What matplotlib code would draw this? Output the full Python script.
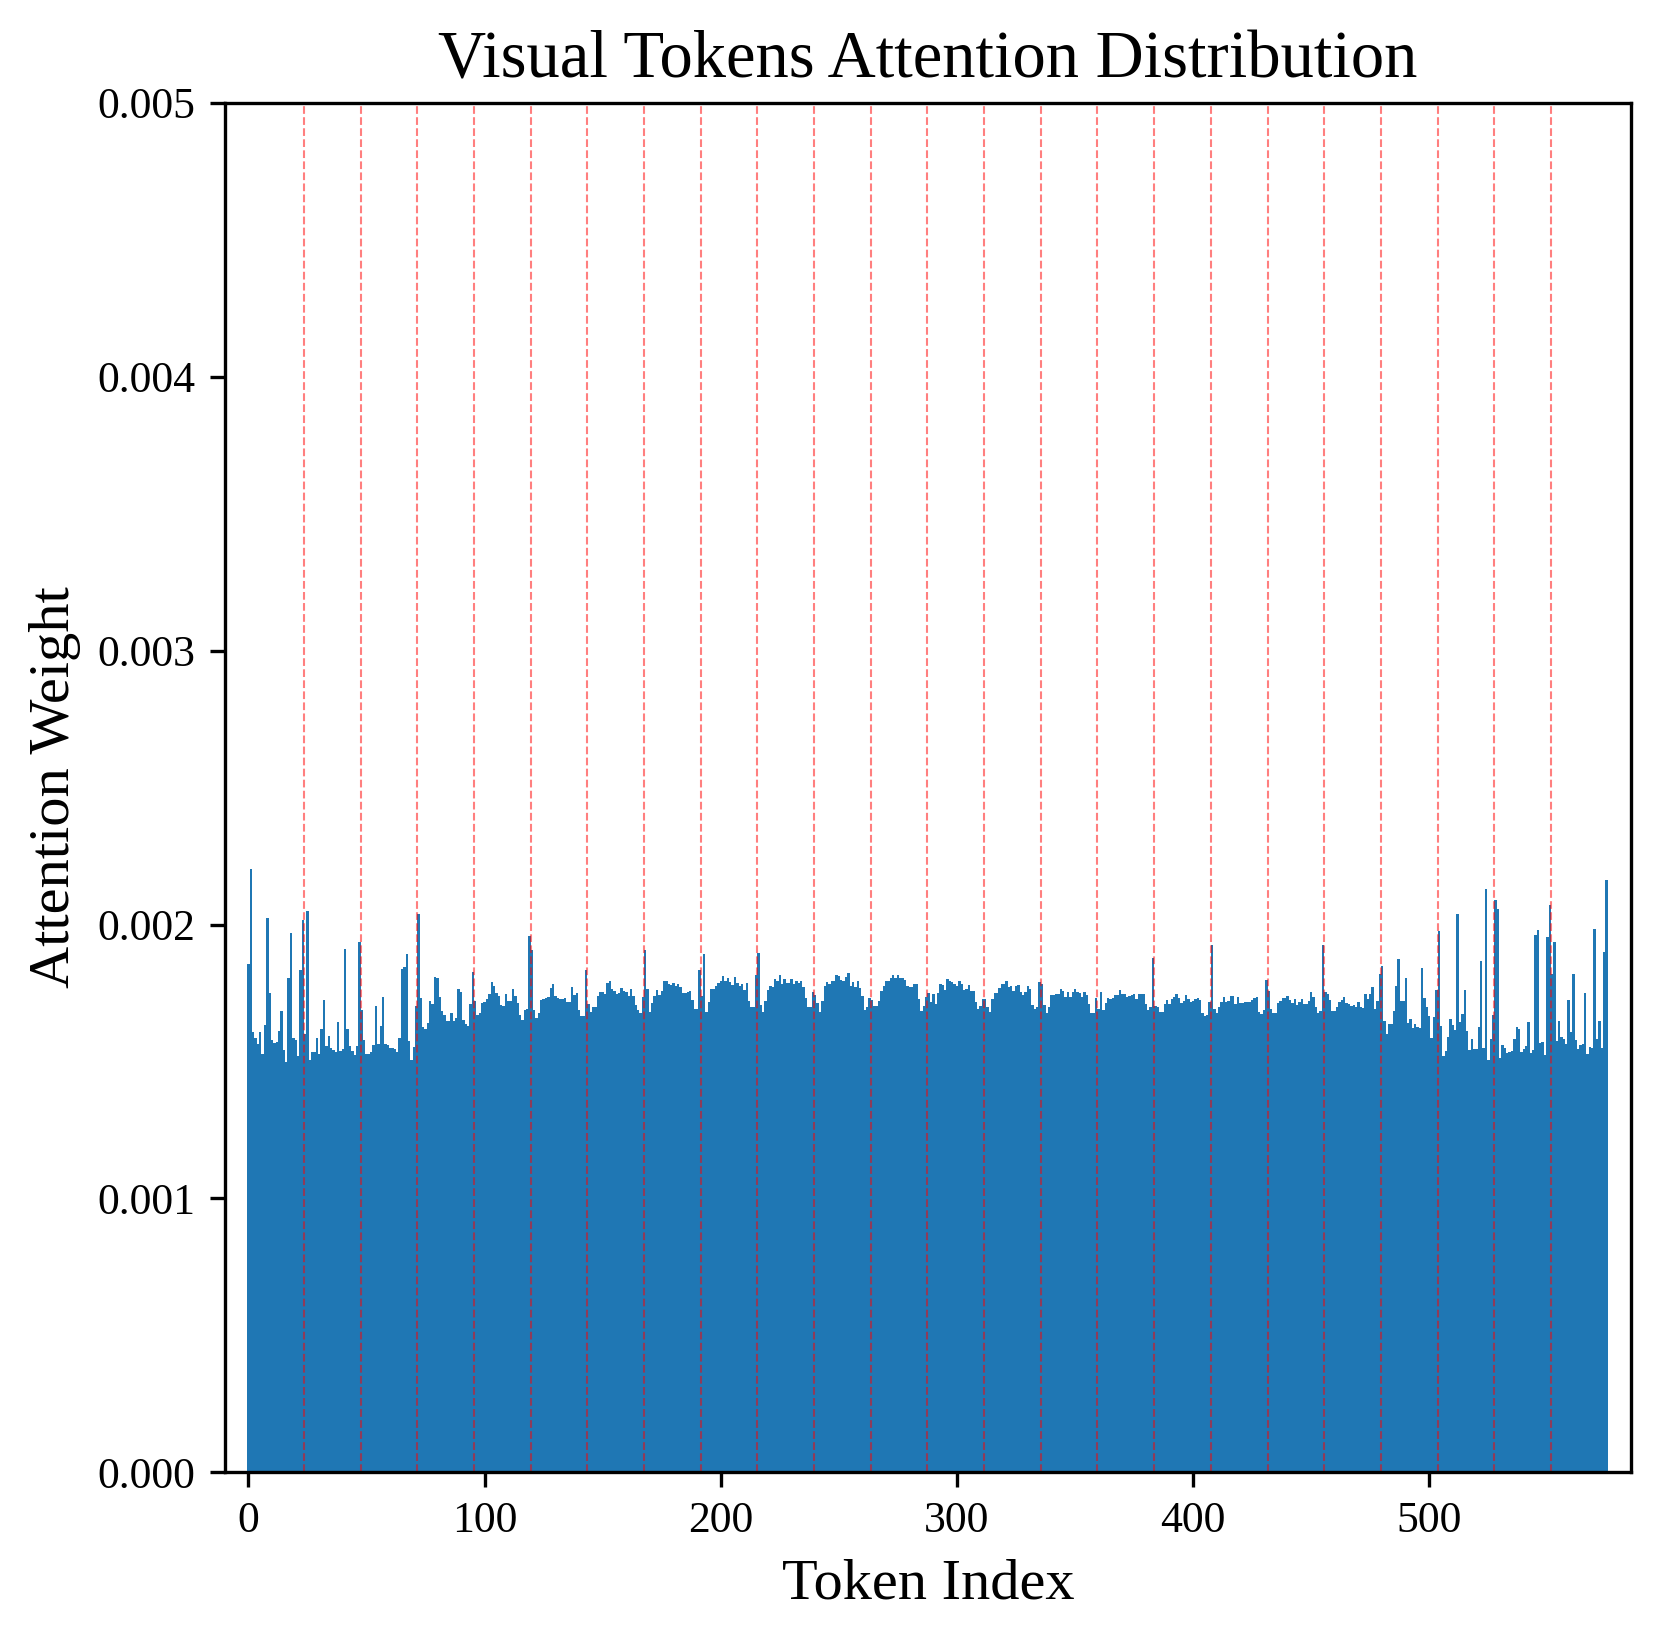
import numpy as np
import matplotlib
matplotlib.use("Agg")
import matplotlib.pyplot as plt

plt.rcParams['font.family'] = ['Liberation Serif', 'DejaVu Serif']

# Attention weights (x 1e-3), one list per row of the 24x24 visual token grid
row_00 = [1.857, 2.203, 1.608, 1.587, 1.565, 1.606, 1.528, 1.634, 2.022, 1.750, 1.580, 1.569, 1.570, 1.611, 1.683, 1.542, 1.497, 1.803, 1.969, 1.587, 1.577, 1.520, 1.833, 2.018]
row_01 = [1.602, 2.050, 1.504, 1.533, 1.533, 1.586, 1.526, 1.619, 1.726, 1.558, 1.594, 1.550, 1.541, 1.533, 1.645, 1.538, 1.544, 1.910, 1.620, 1.555, 1.538, 1.524, 1.555, 1.935]
row_02 = [1.687, 1.580, 1.527, 1.528, 1.533, 1.561, 1.703, 1.563, 1.628, 1.736, 1.563, 1.560, 1.550, 1.549, 1.546, 1.535, 1.586, 1.837, 1.846, 1.894, 1.576, 1.504, 1.554, 1.704]
row_03 = [2.038, 1.731, 1.626, 1.617, 1.641, 1.721, 1.709, 1.809, 1.805, 1.736, 1.686, 1.671, 1.647, 1.648, 1.678, 1.647, 1.660, 1.766, 1.755, 1.653, 1.636, 1.631, 1.711, 1.826]
row_04 = [1.722, 1.670, 1.678, 1.712, 1.718, 1.729, 1.748, 1.789, 1.777, 1.751, 1.738, 1.706, 1.704, 1.745, 1.722, 1.720, 1.764, 1.740, 1.714, 1.669, 1.650, 1.689, 1.690, 1.958]
row_05 = [1.906, 1.687, 1.659, 1.676, 1.723, 1.728, 1.733, 1.737, 1.768, 1.782, 1.739, 1.731, 1.727, 1.727, 1.731, 1.717, 1.717, 1.771, 1.742, 1.749, 1.687, 1.665, 1.665, 1.833]
row_06 = [1.711, 1.680, 1.699, 1.698, 1.740, 1.754, 1.755, 1.745, 1.788, 1.795, 1.766, 1.757, 1.748, 1.750, 1.768, 1.757, 1.753, 1.738, 1.764, 1.738, 1.705, 1.687, 1.676, 1.734]
row_07 = [1.908, 1.766, 1.682, 1.714, 1.738, 1.761, 1.742, 1.759, 1.794, 1.793, 1.782, 1.779, 1.787, 1.776, 1.783, 1.770, 1.750, 1.751, 1.754, 1.757, 1.723, 1.690, 1.693, 1.833]
row_08 = [1.738, 1.891, 1.682, 1.717, 1.764, 1.764, 1.777, 1.787, 1.792, 1.812, 1.792, 1.803, 1.790, 1.778, 1.810, 1.788, 1.777, 1.781, 1.762, 1.788, 1.722, 1.698, 1.698, 1.815]
row_09 = [1.896, 1.706, 1.682, 1.721, 1.760, 1.777, 1.771, 1.800, 1.795, 1.817, 1.784, 1.800, 1.788, 1.787, 1.801, 1.784, 1.792, 1.788, 1.792, 1.772, 1.731, 1.698, 1.699, 1.753]
row_10 = [1.744, 1.715, 1.682, 1.721, 1.775, 1.789, 1.784, 1.793, 1.792, 1.816, 1.812, 1.799, 1.795, 1.809, 1.822, 1.776, 1.790, 1.773, 1.792, 1.768, 1.738, 1.689, 1.698, 1.733]
row_11 = [1.726, 1.703, 1.704, 1.721, 1.757, 1.776, 1.795, 1.795, 1.806, 1.817, 1.803, 1.816, 1.806, 1.804, 1.797, 1.775, 1.771, 1.772, 1.782, 1.782, 1.729, 1.683, 1.701, 1.736]
row_12 = [1.749, 1.716, 1.747, 1.711, 1.750, 1.781, 1.778, 1.761, 1.800, 1.795, 1.789, 1.783, 1.777, 1.795, 1.784, 1.762, 1.764, 1.779, 1.759, 1.759, 1.716, 1.693, 1.704, 1.728]
row_13 = [1.728, 1.699, 1.681, 1.727, 1.749, 1.749, 1.768, 1.784, 1.782, 1.793, 1.773, 1.775, 1.759, 1.777, 1.778, 1.755, 1.744, 1.753, 1.775, 1.765, 1.706, 1.693, 1.699, 1.790]
row_14 = [1.782, 1.706, 1.676, 1.697, 1.742, 1.743, 1.748, 1.745, 1.765, 1.756, 1.734, 1.754, 1.736, 1.754, 1.765, 1.754, 1.751, 1.737, 1.754, 1.743, 1.709, 1.678, 1.677, 1.732]
row_15 = [1.690, 1.755, 1.689, 1.715, 1.732, 1.728, 1.733, 1.742, 1.744, 1.762, 1.747, 1.745, 1.736, 1.738, 1.743, 1.747, 1.728, 1.747, 1.745, 1.748, 1.709, 1.689, 1.699, 1.876]
row_16 = [1.701, 1.699, 1.680, 1.681, 1.711, 1.726, 1.711, 1.728, 1.736, 1.747, 1.732, 1.714, 1.720, 1.742, 1.727, 1.716, 1.720, 1.728, 1.732, 1.725, 1.676, 1.666, 1.670, 1.718]
row_17 = [1.927, 1.690, 1.676, 1.697, 1.716, 1.736, 1.716, 1.720, 1.739, 1.739, 1.711, 1.734, 1.712, 1.712, 1.717, 1.718, 1.718, 1.726, 1.731, 1.734, 1.682, 1.675, 1.689, 1.796]
row_18 = [1.756, 1.692, 1.676, 1.676, 1.715, 1.722, 1.733, 1.732, 1.739, 1.725, 1.712, 1.729, 1.706, 1.718, 1.728, 1.710, 1.710, 1.722, 1.754, 1.736, 1.697, 1.677, 1.686, 1.927]
row_19 = [1.754, 1.747, 1.725, 1.684, 1.684, 1.700, 1.716, 1.725, 1.734, 1.712, 1.709, 1.703, 1.705, 1.698, 1.718, 1.697, 1.694, 1.748, 1.729, 1.748, 1.772, 1.690, 1.722, 1.818]
row_20 = [1.850, 1.647, 1.602, 1.636, 1.636, 1.684, 1.775, 1.873, 1.720, 1.721, 1.806, 1.641, 1.654, 1.621, 1.636, 1.625, 1.622, 1.843, 1.733, 1.699, 1.665, 1.587, 1.661, 1.760]
row_21 = [1.976, 1.628, 1.521, 1.537, 1.588, 1.654, 1.632, 1.616, 2.040, 1.643, 1.672, 1.761, 1.610, 1.542, 1.581, 1.547, 1.546, 1.624, 1.865, 1.550, 2.131, 1.507, 1.581, 1.669]
row_22 = [2.089, 2.058, 1.514, 1.561, 1.550, 1.531, 1.533, 1.538, 1.581, 1.624, 1.617, 1.533, 1.547, 1.555, 1.644, 1.531, 1.541, 1.961, 1.979, 1.569, 1.571, 1.522, 1.954, 2.072]
row_23 = [1.821, 1.935, 1.575, 1.647, 1.591, 1.581, 1.563, 1.726, 1.608, 1.821, 1.577, 1.546, 1.559, 1.564, 1.750, 1.526, 1.552, 1.550, 1.985, 1.581, 1.647, 1.550, 1.901, 2.164]

rows = [row_00, row_01, row_02, row_03, row_04, row_05, row_06, row_07,
        row_08, row_09, row_10, row_11, row_12, row_13, row_14, row_15,
        row_16, row_17, row_18, row_19, row_20, row_21, row_22, row_23]
grid_size = 24
weights = np.concatenate([np.array(r) for r in rows]) * 1e-3
token_index = np.arange(len(weights))

title = "Visual Tokens Attention Distribution"
xlabel = "Token Index"
ylabel = "Attention Weight"

fig = plt.figure(figsize=(1663 / 300, 1642 / 300), dpi=300)
ax = fig.add_axes([0.1352, 0.1034, 0.9809 - 0.1352, 0.9373 - 0.1034])

ax.bar(token_index, weights, width=1.0, color='#1f77b4', linewidth=0)
for k in range(1, grid_size):
    ax.axvline(k * grid_size - 0.5, color='red', linestyle='--', alpha=0.5, linewidth=0.5)

ax.set_xlim(-10, 585.5)
ax.set_ylim(0, 0.005)
ax.set_xticks([0, 100, 200, 300, 400, 500])
ax.set_yticks([0.000, 0.001, 0.002, 0.003, 0.004, 0.005])
ax.set_yticklabels(["0.000", "0.001", "0.002", "0.003", "0.004", "0.005"])
ax.tick_params(labelsize=10.5)
ax.set_title(title, fontsize=16)
ax.set_xlabel(xlabel, fontsize=14)
ax.set_ylabel(ylabel, fontsize=14)

fig.savefig("out.png", dpi=300)
